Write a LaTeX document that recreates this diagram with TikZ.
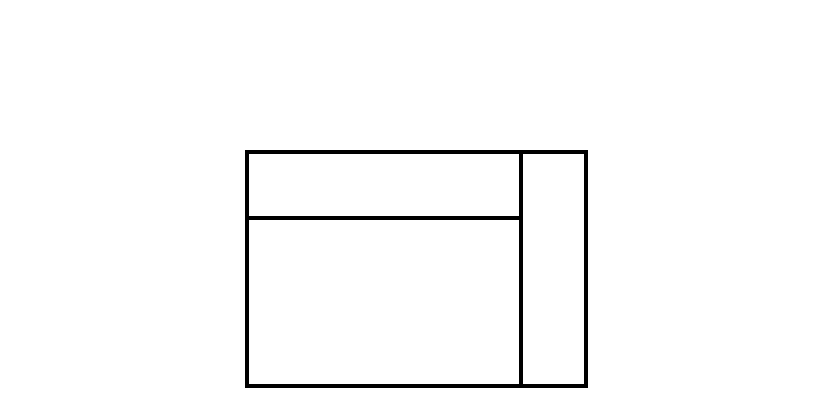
\documentclass[tikz,border=0pt]{standalone}
\usetikzlibrary{calc}
\tikzstyle{frame} = [draw=black, line width=0.08cm, line join=miter]
\tikzstyle{divider} = [draw=black, line width=0.08cm]
\newcommand{\unitpx}{0.02cm}

\begin{document}
\begin{tikzpicture}[x=\unitpx, y=-\unitpx]

  %\draw[help lines] (0,0) grid (833,416);
  \useasboundingbox (0,0) rectangle (833,416);

  \coordinate (topleft) at (247,152);
  \coordinate (botright) at (585.5,386);
  \coordinate (splittop) at (520.5,152);
  \coordinate (splitbot) at (520.5,386);
  \coordinate (bandleft) at (247,218);
  \coordinate (bandright) at (520.5,218);

  % outer frame
  \draw [frame] (topleft) rectangle (botright);

  % right column
  \draw [divider] (splittop) -- (splitbot);

  % top band
  \draw [divider] (bandleft) -- (bandright);

\end{tikzpicture}
\end{document}
